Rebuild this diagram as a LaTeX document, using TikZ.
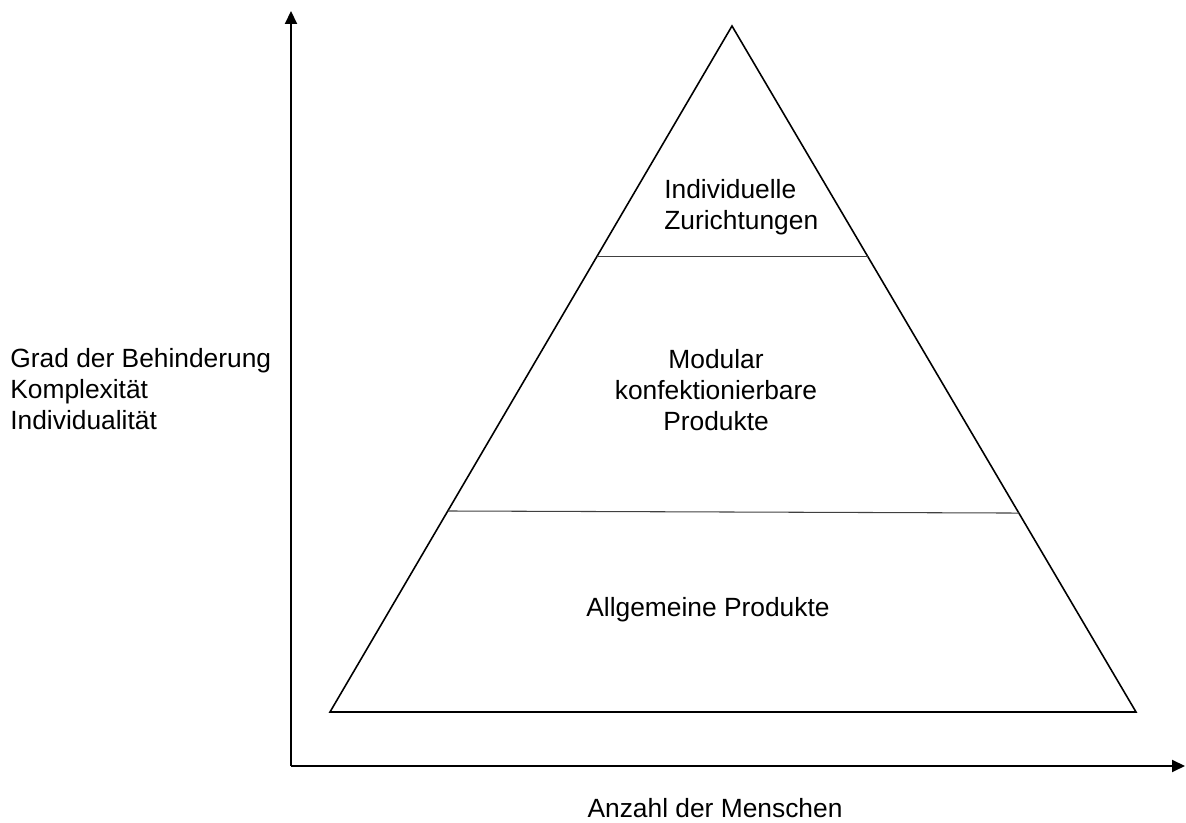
\documentclass[tikz,border=0pt]{standalone}
\usepackage{fontspec}
\setmainfont{Liberation Sans}
\usetikzlibrary{arrows.meta,calc}
\begin{document}
\begin{tikzpicture}[>={Triangle[length=0.26cm,width=0.24cm]},
  lbl/.style={inner sep=0pt, font=\fontsize{15}{17.6}\selectfont},
  axis/.style={->, line width=1.1pt},
  edge/.style={line width=0.9pt, line join=miter},
  layer/.style={line width=0.6pt, black!75}]
\useasboundingbox (0,0) rectangle (23.72,16.46);
% axes
\coordinate (o) at (5.82,1.14);
\coordinate (ytop) at (5.82,16.24);
\coordinate (xend) at (23.70,1.14);
\draw[axis] (o) -- (ytop);
\draw[axis] (o) -- (xend);
% pyramid
\coordinate (apex) at (14.64,15.94);
\coordinate (bl) at (6.60,2.22);
\coordinate (br) at (22.72,2.22);
\draw[edge] (apex) -- (br) -- (bl) -- cycle;
\draw[layer] ($(apex)!0.3367!(bl)$) -- ($(apex)!0.3367!(br)$);
\draw[layer] ($(apex)!0.707!(bl)$) -- ($(apex)!0.710!(br)$);
% labels
\node[lbl, align=left, anchor=west] (top) at (13.28,12.32) {Individuelle\\Zurichtungen};
\node[lbl, align=center] (mid) at (14.32,8.66) {Modular\\konfektionierbare\\Produkte};
\node[lbl] (base) at (14.16,4.26) {Allgemeine Produkte};
\node[lbl, align=left, anchor=west] (ylab) at (0.2,8.68) {Grad der Behinderung\\Komplexität\\Individualität};
\node[lbl] (xlab) at (14.3,0.30) {Anzahl der Menschen};
\end{tikzpicture}
\end{document}
